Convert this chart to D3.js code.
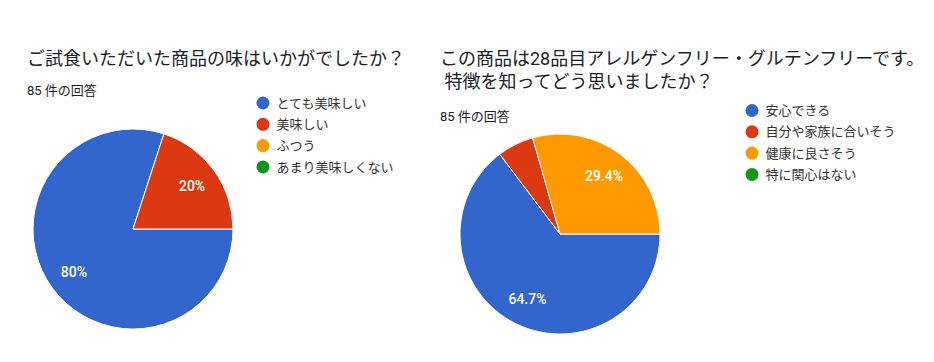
<!DOCTYPE html>
<html>
<head>
<meta charset="utf-8">
<script src="https://cdn.jsdelivr.net/npm/d3@7"></script>
<style>
  body { margin: 0; background: #fff; }
  text { font-family: Roboto, "Noto Sans CJK JP", sans-serif; }
</style>
</head>
<body>
<div id="chart"></div>
<script>
// question 1
const q1Title = ['ご試食いただいた商品の味はいかがでしたか？']
const q1Labels = ['とても美味しい', '美味しい', 'ふつう', 'あまり美味しくない']
const q1Counts = [68, 17, 0, 0]

// question 2
const q2Title = ['この商品は28品目アレルゲンフリー・グルテンフリーです。', ' 特徴を知ってどう思いましたか？']
const q2Labels = ['安心できる', '自分や家族に合いそう', '健康に良さそう', '特に関心はない']
const q2Counts = [55, 5, 25, 0]

const responses = '85 件の回答'
const colors = ['#3366cc', '#dc3912', '#ff9900', '#109618']

const width = 934
const height = 362

const svg = d3.select('#chart').append('svg').attr('width', width).attr('height', height)
svg.append('rect').attr('width', width).attr('height', height).attr('fill', '#fff')

const color = d3.scaleOrdinal().range(colors)
const pct = v => {
  const s = (v * 100).toFixed(1)
  return (s.endsWith('.0') ? s.slice(0, -2) : s) + '%'
}

function drawChart(opts) {
  const g = svg.append('g')

  g.selectAll('.title').data(opts.title).enter()
    .append('text')
    .attr('x', opts.titleX)
    .attr('y', (d, i) => opts.titleY + i * 23)
    .attr('font-size', 18)
    .attr('fill', '#202124')
    .style('white-space', 'pre')
    .text(d => d)

  g.append('text')
    .attr('x', opts.titleX)
    .attr('y', opts.countY)
    .attr('font-size', 13)
    .attr('fill', '#202124')
    .text(responses)

  color.domain(opts.labels)
  const total = d3.sum(opts.counts)
  const data = opts.labels.map((l, i) => ({ label: l, value: opts.counts[i] }))

  const pie = d3.pie().sort(null).value(d => d.value)
    .startAngle(Math.PI / 2).endAngle(Math.PI / 2 + 2 * Math.PI)
  const arc = d3.arc().innerRadius(0).outerRadius(opts.r)
  const labelArc = d3.arc().innerRadius(opts.r * 0.73).outerRadius(opts.r * 0.73)

  const pieGroup = g.append('g').attr('transform', `translate(${opts.cx}, ${opts.cy})`)
  const slices = pie(data).filter(d => d.value > 0)

  pieGroup.selectAll('path').data(slices).enter()
    .append('path')
    .attr('d', arc)
    .attr('fill', d => color(d.data.label))
    .attr('stroke', '#fff')
    .attr('stroke-width', 1)

  pieGroup.selectAll('.slice-label').data(slices.filter(d => d.value / total >= 0.1)).enter()
    .append('text')
    .attr('class', 'slice-label')
    .attr('transform', d => `translate(${labelArc.centroid(d)})`)
    .attr('text-anchor', 'middle')
    .attr('dy', '0.36em')
    .attr('font-size', 14)
    .attr('font-weight', 500)
    .attr('fill', '#fff')
    .text(d => pct(d.value / total))

  const legend = g.selectAll('.legend').data(opts.labels).enter()
    .append('g')
    .attr('transform', (d, i) => `translate(${opts.legendX}, ${opts.legendY + i * 21.3})`)
  legend.append('circle').attr('r', 6.5).attr('fill', d => color(d))
  legend.append('text')
    .attr('x', 13.5)
    .attr('dy', '0.36em')
    .attr('font-size', 13)
    .attr('fill', '#333')
    .text(d => d)
}

drawChart({
  title: q1Title, labels: q1Labels, counts: q1Counts,
  titleX: 27, titleY: 65, countY: 95,
  cx: 133, cy: 229, r: 100,
  legendX: 263, legendY: 103
})

drawChart({
  title: q2Title, labels: q2Labels, counts: q2Counts,
  titleX: 440, titleY: 65, countY: 121,
  cx: 560, cy: 234, r: 100,
  legendX: 752, legendY: 110.5
})
</script>
</body>
</html>
